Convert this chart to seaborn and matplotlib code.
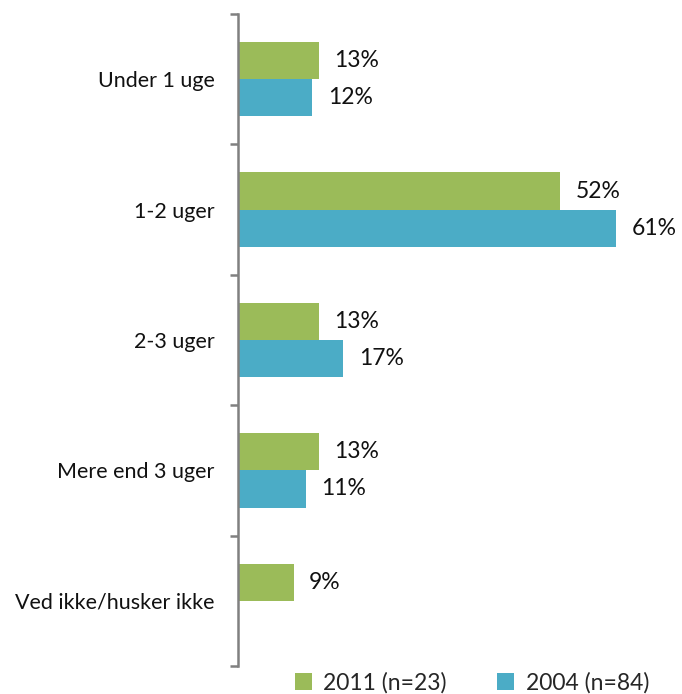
import numpy as np
import pandas as pd
import matplotlib
matplotlib.use("Agg")
import matplotlib.pyplot as plt
import seaborn as sns
from matplotlib.patches import Patch

categories = ["Under 1 uge", "1-2 uger", "2-3 uger", "Mere end 3 uger", "Ved ikke/husker ikke"]
series_names = ["2011 (n=23)", "2004 (n=84)"]
values_2011 = [13, 52, 13, 13, 9]
values_2004 = [12, 61, 17, 11, np.nan]
colors = ["#9BBB59", "#4BACC6"]

sns.set_theme(style="white")
plt.rcParams['font.family'] = ['Lato', 'DejaVu Sans']

df = pd.DataFrame({
    "category": categories * 2,
    "series": [series_names[0]] * len(categories) + [series_names[1]] * len(categories),
    "value": list(values_2011) + list(values_2004),
})

fig = plt.figure(figsize=(6.82, 6.94), dpi=100)
ax = fig.add_axes([238 / 682, 1 - 666 / 694, 1 - 238 / 682, (666 - 14) / 694])

sns.barplot(data=df, x="value", y="category", hue="series", order=categories,
            hue_order=series_names, palette=colors, orient="h", width=0.57,
            saturation=1, ax=ax, legend=False, errorbar=None,
            edgecolor="none", linewidth=0)

for cont in ax.containers:
    labels = []
    for bar in cont:
        w = bar.get_width()
        labels.append("" if (w is None or np.isnan(w) or w == 0) else f"{w:.0f}%")
    ax.bar_label(cont, labels=labels, padding=11, fontsize=16.5, color="#111111")

ax.set_xlim(0, 71.6)
ax.set_ylim(len(categories) - 0.5, -0.5)
ax.set_xlabel("")
ax.set_ylabel("")
ax.set_xticks([])
for s in ["top", "right", "bottom"]:
    ax.spines[s].set_visible(False)
ax.spines["left"].set_color("#808080")
ax.spines["left"].set_linewidth(1.8)

ax.set_yticks(np.arange(len(categories)))
ax.set_yticklabels(categories, fontsize=15.5, color="#111111")
ax.tick_params(axis="y", which="major", length=0, pad=17)
ax.set_yticks(np.arange(-0.5, len(categories), 1.0), minor=True)
ax.tick_params(axis="y", which="minor", length=6, width=1.8, color="#808080", left=True)

handles = [Patch(facecolor=c, edgecolor="none") for c in colors]
fig.legend(handles, series_names, loc="center", bbox_to_anchor=(0.692, 0.016), ncol=2,
           frameon=False, fontsize=16.5, handlelength=0.75, handleheight=0.75,
           handletextpad=0.5, columnspacing=2.2)

fig.savefig("out.png", dpi=100)
